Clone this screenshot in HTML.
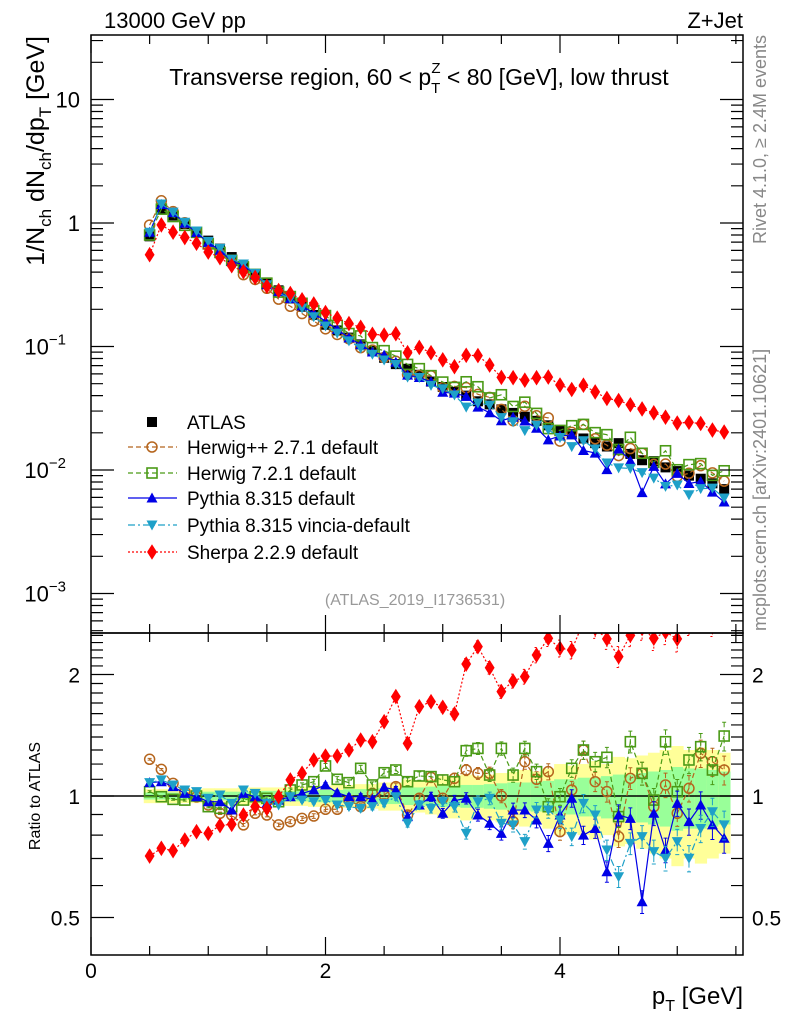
<!DOCTYPE html>
<html><head><meta charset="utf-8">
<style>
body{margin:0;background:#fff;}
svg{display:block;font-family:"Liberation Sans",Arial,sans-serif;}
</style></head>
<body>
<svg id="chart" width="786" height="1024" viewBox="0 0 786 1024" xmlns="http://www.w3.org/2000/svg">
<defs>
<clipPath id="cm"><rect x="91" y="35" width="652" height="598"/></clipPath>
<clipPath id="cr"><rect x="91" y="633" width="652" height="322"/></clipPath>
</defs>
<rect x="0" y="0" width="786" height="1024" fill="#fff"/>
<g id="ratioBands" clip-path="url(#cr)"></g>
<g id="mainMarks" clip-path="url(#cm)"></g>
<g id="ratioMarks" clip-path="url(#cr)"></g>
<g id="axes"></g>
<text x="104" y="28" font-size="22">13000 GeV pp</text>
<text x="743" y="28" font-size="22" text-anchor="end">Z+Jet</text>
<text x="419" y="85" font-size="23" text-anchor="middle">Transverse region, 60 &lt; p<tspan font-size="15" dy="8">T</tspan><tspan font-size="15" dx="-9" dy="-20">Z</tspan><tspan dy="12"> &lt; 80 [GeV], low thrust</tspan></text>
<text transform="translate(766,35) rotate(-90)" font-size="18" fill="#888" text-anchor="end">Rivet 4.1.0, ≥ 2.4M events</text>
<text transform="translate(766,631) rotate(-90)" font-size="18" fill="#888">mcplots.cern.ch [arXiv:2401.10621]</text>
<text transform="translate(44,36) rotate(-90)" font-size="25" text-anchor="end">1/N<tspan font-size="17" dy="7">ch</tspan><tspan dy="-7"> dN</tspan><tspan font-size="17" dy="7">ch</tspan><tspan dy="-7">/dp</tspan><tspan font-size="17" dy="7">T</tspan><tspan dy="-7"> [GeV]</tspan></text>
<text transform="translate(40,796) rotate(-90)" font-size="16" text-anchor="middle">Ratio to ATLAS</text>
<text x="415" y="605" font-size="16" fill="#999" text-anchor="middle">(ATLAS_2019_I1736531)</text>
<text x="743" y="1004" font-size="24" text-anchor="end">p<tspan font-size="16" dy="7">T</tspan><tspan dy="-7"> [GeV]</tspan></text>
<g id="legend"></g>
</svg>
<script>
const xVals=[0.5,0.6,0.7,0.8,0.9,1.0,1.1,1.2,1.3,1.4,1.5,1.6,1.7,1.8,1.9,2.0,2.1,2.2,2.3,2.4,2.5,2.6,2.7,2.8,2.9,3.0,3.1,3.2,3.3,3.4,3.5,3.6,3.7,3.8,3.9,4.0,4.1,4.2,4.3,4.4,4.5,4.6,4.7,4.8,4.9,5.0,5.1,5.2,5.3,5.4];
const atlas=[0.78,1.30,1.15,0.98,0.84,0.72,0.62,0.53,0.45,0.385,0.33,0.285,0.245,0.21,0.18,0.15,0.135,0.118,0.104,0.092,0.081,0.072,0.066,0.059,0.052,0.047,0.043,0.040,0.036,0.034,0.031,0.029,0.027,0.025,0.023,0.021,0.0195,0.018,0.0165,0.0155,0.0165,0.0135,0.012,0.0118,0.0105,0.0098,0.009,0.0085,0.0078,0.007];
const totErr=[0.04,0.04,0.04,0.04,0.04,0.045,0.045,0.045,0.05,0.05,0.05,0.05,0.055,0.055,0.06,0.06,0.065,0.065,0.07,0.07,0.08,0.08,0.1,0.09,0.1,0.12,0.12,0.13,0.12,0.13,0.14,0.15,0.16,0.15,0.17,0.2,0.19,0.2,0.22,0.2,0.25,0.24,0.26,0.28,0.3,0.33,0.3,0.32,0.3,0.28];
const statErr=[0.02,0.02,0.02,0.02,0.02,0.025,0.025,0.025,0.025,0.025,0.03,0.03,0.03,0.03,0.035,0.035,0.035,0.04,0.04,0.04,0.045,0.045,0.05,0.05,0.055,0.06,0.06,0.065,0.065,0.07,0.075,0.08,0.08,0.085,0.09,0.1,0.1,0.11,0.11,0.12,0.13,0.13,0.14,0.15,0.16,0.18,0.17,0.17,0.16,0.15];
const mcErr=[0.005,0.005,0.005,0.006,0.006,0.007,0.007,0.008,0.008,0.009,0.01,0.01,0.011,0.012,0.013,0.014,0.015,0.016,0.017,0.018,0.019,0.02,0.022,0.024,0.026,0.028,0.03,0.032,0.034,0.036,0.038,0.04,0.042,0.044,0.046,0.048,0.05,0.052,0.055,0.058,0.06,0.062,0.065,0.068,0.07,0.072,0.075,0.078,0.08,0.082];
const ratioHerwigPP=[1.233,1.164,1.075,1.025,0.995,0.950,0.906,0.897,0.848,0.906,0.897,0.848,0.864,0.880,0.892,0.927,0.927,0.977,0.941,1.015,1.006,1.055,0.897,0.987,1.112,0.987,1.106,1.160,1.138,1.138,1.0,0.864,1.216,1.100,1.149,0.816,1.035,1.300,1.085,1.025,0.793,1.106,1.138,0.941,1.065,0.906,1.045,1.276,1.216,1.160];
const ratioHerwig7=[1.025,0.996,0.981,0.977,1.0,0.941,0.932,0.941,0.977,0.996,0.987,0.968,1.035,1.065,1.085,1.187,1.100,1.079,1.171,1.065,1.142,1.160,1.085,1.121,1.117,1.096,1.085,1.295,1.312,1.127,1.312,1.127,1.312,1.149,0.941,0.996,1.171,1.300,1.216,1.247,0.889,1.363,1.138,0.977,1.363,1.025,1.228,1.325,1.160,1.408];
const ratioPythia=[1.079,1.085,1.055,1.015,0.996,0.968,0.968,0.923,1.015,0.996,0.959,0.977,0.996,1.015,1.035,1.065,1.019,0.996,0.996,0.981,1.051,1.035,0.889,0.950,0.996,0.906,0.974,0.987,0.897,0.856,0.808,0.923,0.923,0.872,0.763,0.897,0.987,0.800,0.831,0.649,0.897,0.880,0.547,0.906,0.735,0.959,0.864,0.950,0.848,0.786];
const ratioVincia=[1.079,1.096,1.065,1.035,1.025,0.987,1.006,0.959,1.035,1.015,0.959,0.950,0.996,0.977,0.968,0.977,0.950,0.941,0.932,0.941,0.959,0.996,0.856,0.950,0.932,0.968,0.941,0.808,0.968,0.987,0.856,0.848,0.771,0.923,0.923,0.872,0.793,0.959,0.897,0.735,0.631,0.763,0.793,0.728,0.701,0.771,0.701,0.831,0.914,0.848];
const ratioSherpa=[0.710,0.742,0.732,0.778,0.816,0.808,0.845,0.851,0.897,0.941,0.932,0.996,1.096,1.138,1.228,1.256,1.256,1.300,1.376,1.363,1.528,1.763,1.350,1.665,1.713,1.659,1.597,2.123,2.344,2.079,1.814,1.927,1.976,2.235,2.459,2.322,2.300,2.7,2.6,2.45,2.214,2.5,2.6,2.46,2.55,2.45,2.7,2.8,2.7,2.9];
const seriesNames=["Herwig++ 2.7.1 default","Herwig 7.2.1 default","Pythia 8.315 default","Pythia 8.315 vincia-default","Sherpa 2.2.9 default"];

const NS="http://www.w3.org/2000/svg";
const X0=91,X1=743,MT=35,MB=633,RB=955;
function xs(v){return X0+117.25*v;}
function ym(v){return 223-123.5*Math.log10(v);}
function yr(r){return 796-121.5*Math.log2(r);}
function mk(tag,attrs,parent){const e=document.createElementNS(NS,tag);for(const k in attrs)e.setAttribute(k,attrs[k]);parent.appendChild(e);return e;}

const styles=[
 {ratio:ratioHerwigPP,color:"#b5651d",dash:"5,3",marker:"circle",name:"herwigpp"},
 {ratio:ratioHerwig7,color:"#4a9a16",dash:"5,3",marker:"square",name:"herwig7"},
 {ratio:ratioPythia,color:"#0000e6",dash:"",marker:"up",name:"pythia"},
 {ratio:ratioVincia,color:"#1ea0c8",dash:"7,3,2,3",marker:"down",name:"vincia"},
 {ratio:ratioSherpa,color:"#ff0000",dash:"2,2",marker:"diamond",name:"sherpa"}
];
function marker(g,type,x,y,color,s){
  let e;
  if(type==="circle")e=mk("circle",{cx:x,cy:y,r:s*0.5,fill:"none",stroke:color,"stroke-width":1.5},g);
  else if(type==="square")e=mk("rect",{x:x-s/2,y:y-s/2,width:s,height:s,fill:"none",stroke:color,"stroke-width":1.6},g);
  else if(type==="up")e=mk("polygon",{points:`${x},${y-s*0.55} ${x-s*0.55},${y+s*0.45} ${x+s*0.55},${y+s*0.45}`,fill:color},g);
  else if(type==="down")e=mk("polygon",{points:`${x},${y+s*0.55} ${x-s*0.55},${y-s*0.45} ${x+s*0.55},${y-s*0.45}`,fill:color},g);
  else if(type==="diamond")e=mk("polygon",{points:`${x},${y-s*0.6} ${x-s*0.38},${y} ${x},${y+s*0.6} ${x+s*0.38},${y}`,fill:color},g);
  else e=mk("rect",{x:x-s/2,y:y-s/2,width:s,height:s,fill:color},g);
  return e;
}

const rb=document.getElementById("ratioBands");
xVals.forEach((x,i)=>{
  const xl=xs(x-0.05),xr=xs(x+0.05);
  const b1=mk("rect",{x:xl,y:yr(1+totErr[i]),width:xr-xl+0.5,height:yr(1-totErr[i])-yr(1+totErr[i]),fill:"#ffff99"},rb);
  
  
  const b2=mk("rect",{x:xl,y:yr(1+statErr[i]),width:xr-xl+0.5,height:yr(1-statErr[i])-yr(1+statErr[i]),fill:"#99ff99"},rb);
  
  
});
const one=mk("line",{x1:X0,x2:X1,y1:yr(1),y2:yr(1),stroke:"#000","stroke-width":1.5},rb);



const mm=document.getElementById("mainMarks");
xVals.forEach((x,i)=>{
  const a=marker(mm,"sq",xs(x),ym(atlas[i]),"#000",10);
  
  
});
const rm=document.getElementById("ratioMarks");
styles.forEach(st=>{
  const vals=atlas.map((a,i)=>a*st.ratio[i]);
  const pm=xVals.map((x,i)=>`${xs(x)},${ym(vals[i])}`).join(" ");
  const l1=mk("polyline",{points:pm,fill:"none",stroke:st.color,"stroke-width":1.2,"stroke-dasharray":st.dash},mm);
  
  
  xVals.forEach((x,i)=>{
    const m=marker(mm,st.marker,xs(x),ym(vals[i]),st.color,st.marker==="diamond"?13:10);
    
    
  });
  const pr=xVals.map((x,i)=>`${xs(x)},${yr(st.ratio[i])}`).join(" ");
  const l2=mk("polyline",{points:pr,fill:"none",stroke:st.color,"stroke-width":1.2,"stroke-dasharray":st.dash},rm);
  
  
  xVals.forEach((x,i)=>{
    const r=st.ratio[i],e=mcErr[i]*r;
    const px=xs(x);
    const eb=mk("path",{d:`M${px},${yr(r+e)}V${yr(r-e)}M${px-2},${yr(r+e)}h4M${px-2},${yr(r-e)}h4`,stroke:st.color,"stroke-width":1,fill:"none","stroke-dasharray":st.dash},rm);
    
    
    const m=marker(rm,st.marker,px,yr(r),st.color,st.marker==="diamond"?13:10);
    
    
  });
});

const ax=document.getElementById("axes");
const f1=mk("rect",{x:X0,y:MT,width:X1-X0,height:MB-MT,fill:"none",stroke:"#000","stroke-width":1.5},ax);


const f2=mk("rect",{x:X0,y:MB,width:X1-X0,height:RB-MB,fill:"none",stroke:"#000","stroke-width":1.5},ax);


let tp="";
for(let v=0.5;v<=5.51;v+=0.5){
  const px=xs(v);
  tp+=`M${px},${MT}v9M${px},${MB}v-9M${px},${MB}v9M${px},${RB}v-9`;
}
const xMajorVals=[0,2,4];
xMajorVals.forEach(v=>{
  const px=xs(v);
  tp+=`M${px},${MT}v18M${px},${MB}v-18M${px},${MB}v18M${px},${RB}v-18`;
  const t=mk("text",{x:px,y:978,"font-size":21,"text-anchor":"middle"},ax);
  t.textContent=String(v);
  
  
});
for(let d=-4;d<=1;d++){
  for(let k=1;k<10;k++){
    const v=k*Math.pow(10,d),py=ym(v);
    if(py<MT||py>MB)continue;
    const L=k===1?23:12;
    tp+=`M${X0},${py}h${L}M${X1},${py}h${-L}`;
  }
}
const mainTickLabels=[["10",1],["1",0],["10","\u22121"],["10","\u22122"],["10","\u22123"]];
const mainTickVals=[10,1,0.1,0.01,0.001];
mainTickVals.forEach((v,i)=>{
  const py=ym(v);
  const t=mk("text",{x:i<2?80:66,y:py+8,"font-size":22,"text-anchor":"end"},ax);
  
  
  if(i<2)t.textContent=mainTickLabels[i][0];
  else{t.textContent="10";const s=mk("tspan",{"font-size":15,dy:-10},t);s.textContent=mainTickLabels[i][1];}
});
const ratioMinor=[0.5,0.6,0.7,0.8,0.9,1,1.1,1.2,1.3,1.4,1.5,1.6,1.7,1.8,1.9,2,2.1,2.2,2.3,2.4,2.5];
ratioMinor.forEach(r=>{
  const major=(r===0.5||r===1||r===2);const L=major?23:12,py=yr(r);
  tp+=`M${X0},${py}h${L}M${X1},${py}h${-L}`;
});
const ratioTickVals=[0.5,1,2];
const ratioTickLabels=["0.5","1","2"];
ratioTickVals.forEach((r,i)=>{
  const t1=mk("text",{x:80,y:yr(r)+8,"font-size":21,"text-anchor":"end"},ax);
  t1.textContent=ratioTickLabels[i];
  
  
  const t2=mk("text",{x:752,y:yr(r)+8,"font-size":21},ax);
  t2.textContent=ratioTickLabels[i];
  
  
});
const tk=mk("path",{d:tp,stroke:"#000","stroke-width":1.2,fill:"none"},ax);



const lg=document.getElementById("legend");
const legRows=[422,447,473,498,525,552];
const am=marker(lg,"sq",152,legRows[0],"#000",10);


const at=mk("text",{x:187,y:legRows[0]+7,"font-size":19},lg);
at.textContent="ATLAS";


styles.forEach((st,i)=>{
  const y=legRows[i+1];
  const ln=mk("line",{x1:128,x2:177,y1:y,y2:y,stroke:st.color,"stroke-width":1.2,"stroke-dasharray":st.dash},lg);
  
  
  const m=marker(lg,st.marker,152,y,st.color,st.marker==="diamond"?13:10);
  
  
  const t=mk("text",{x:187,y:y+7,"font-size":19},lg);
  t.textContent=seriesNames[i];
  
  
});
</script>
</body></html>
